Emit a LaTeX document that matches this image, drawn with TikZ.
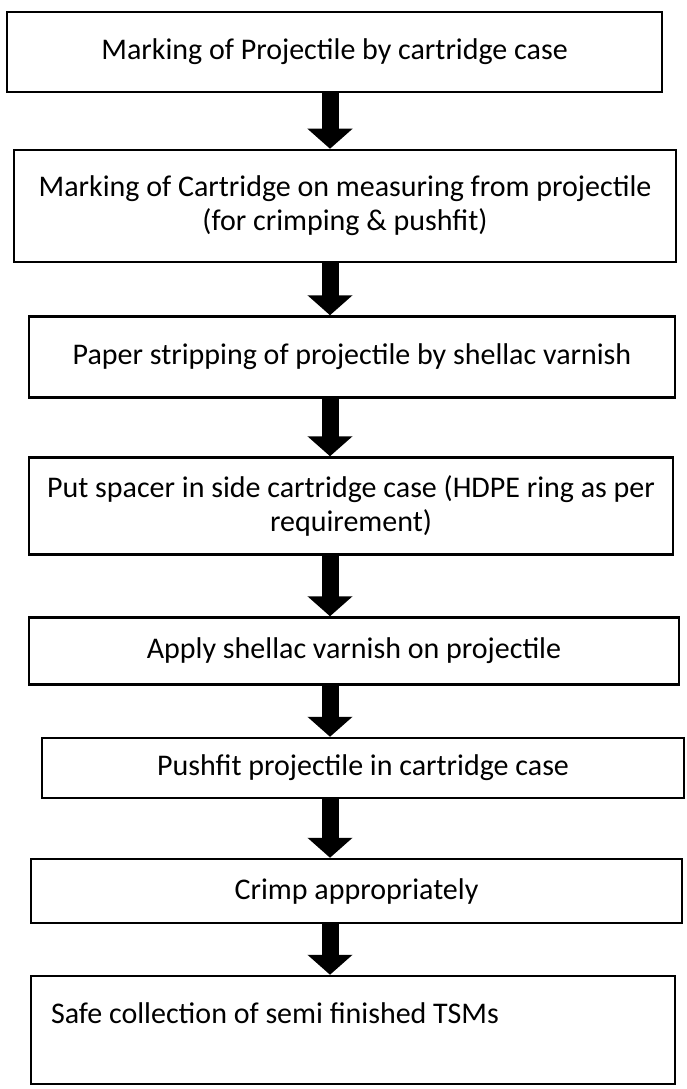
\documentclass[tikz,border=0pt]{standalone}
\usepackage{fontspec}
\setmainfont{Carlito}
\usepackage{tikz}
\usetikzlibrary{arrows.meta}
\pgfdeclarelayer{edgelayer}
\pgfdeclarelayer{nodelayer}
\pgfsetlayers{edgelayer,nodelayer,main}
\tikzstyle{stage}=[draw, line width=2.5pt, inner sep=0pt, align=center, font=\fontsize{30}{34}\selectfont]
\tikzstyle{flow}=[line width=17pt, -{Triangle[length=20pt,width=44pt]}]

\begin{document}
\begin{tikzpicture}[x=1pt,y=-1pt]
	\useasboundingbox (0,0) rectangle (686,1089);
	\begin{pgfonlayer}{nodelayer}
		\coordinate (axis) at (330, 0);
		\node [style=stage, minimum width=655pt, minimum height=80pt] (0) at (334.5, 52) {Marking of Projectile by cartridge case};
		\node [style=stage, minimum width=662pt, minimum height=112pt] (1) at (345, 206) {Marking of Cartridge on measuring from projectile\\(for crimping \& pushfit)};
		\node [style=stage, minimum width=646pt, minimum height=81pt] (2) at (352, 357) {Paper stripping of projectile by shellac varnish};
		\node [style=stage, minimum width=644pt, minimum height=97pt] (3) at (351, 506) {Put spacer in side cartridge case (HDPE ring as per\\requirement)};
		\node [style=stage, minimum width=650pt, minimum height=67pt] (4) at (354, 651) {Apply shellac varnish on projectile};
		\node [style=stage, minimum width=642pt, minimum height=60pt] (5) at (363, 768) {Pushfit projectile in cartridge case};
		\node [style=stage, minimum width=651pt, minimum height=64pt] (6) at (356.5, 891) {Crimp appropriately};
		\node [style=stage, minimum width=644pt, minimum height=108pt, align=flush left, text width=604pt] (7) at (353, 1030) {Safe collection of semi finished TSMs\\ \mbox{}};
	\end{pgfonlayer}
	\begin{pgfonlayer}{edgelayer}
		\draw [style=flow] (0.south -| axis) to (1.north -| axis);
		\draw [style=flow] (1.south -| axis) to (2.north -| axis);
		\draw [style=flow] (2.south -| axis) to (3.north -| axis);
		\draw [style=flow] (3.south -| axis) to (4.north -| axis);
		\draw [style=flow] (4.south -| axis) to (5.north -| axis);
		\draw [style=flow] (5.south -| axis) to (6.north -| axis);
		\draw [style=flow] (6.south -| axis) to (7.north -| axis);
	\end{pgfonlayer}
\end{tikzpicture}
\end{document}
